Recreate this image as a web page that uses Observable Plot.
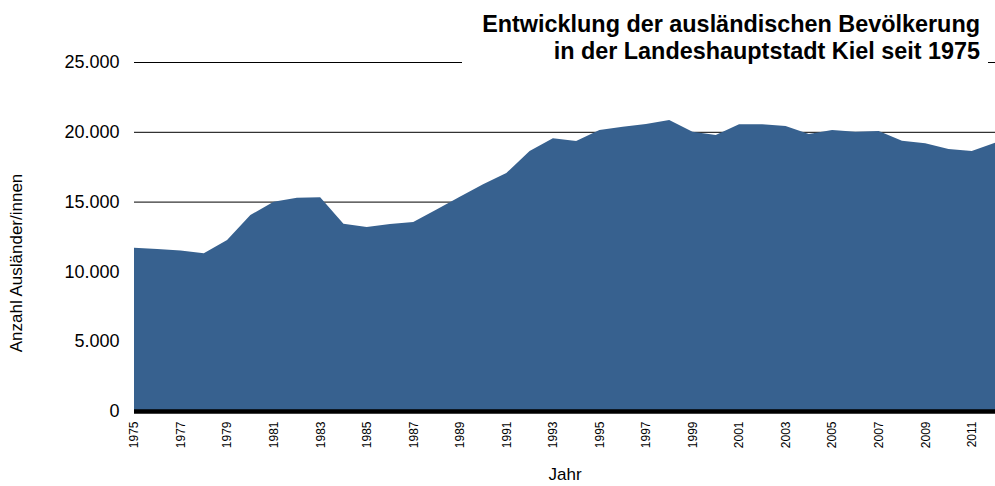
<!DOCTYPE html>
<html><head><meta charset="utf-8">
<script src="https://cdn.jsdelivr.net/npm/d3@7"></script>
<script src="https://cdn.jsdelivr.net/npm/@observablehq/plot@0.6"></script>
<style>
body{margin:0;background:#fff;font-family:"Liberation Sans",Arial,sans-serif;}
#wrap{position:relative;width:995px;height:486px;overflow:hidden;}
#title{position:absolute;top:11px;right:7px;padding:0 8px 0 20px;background:#fff;font-weight:bold;font-size:23.4px;line-height:27px;text-align:right;color:#000;white-space:nowrap;}
#ylab{position:absolute;left:17px;top:263px;transform:translate(-50%,-50%) rotate(-90deg);font-size:17px;white-space:nowrap;color:#000;}
</style></head><body>
<div id="wrap"><div id="chart"></div>
<div id="title">Entwicklung der ausländischen Bevölkerung<br>in der Landeshauptstadt Kiel seit 1975</div>
<div id="ylab">Anzahl Ausländer/innen</div></div>
<script>
const years = [1975,1976,1977,1978,1979,1980,1981,1982,1983,1984,1985,1986,1987,1988,1989,1990,1991,1992,1993,1994,1995,1996,1997,1998,1999,2000,2001,2002,2003,2004,2005,2006,2007,2008,2009,2010,2011,2012];
const auslaender = [11700,11600,11500,11300,12250,14040,14990,15280,15310,13420,13180,13400,13540,14430,15340,16240,17050,18620,19530,19340,20130,20370,20560,20850,20010,19770,20540,20540,20420,19840,20130,20010,20060,19360,19180,18770,18620,19220];
const yTicks = [0,5000,10000,15000,20000,25000];
const xTicks = [1975,1977,1979,1981,1983,1985,1987,1989,1991,1993,1995,1997,1999,2001,2003,2005,2007,2009,2011];
const xLabel = "Jahr";

const data = years.map((j,i)=>({jahr:j, anzahl:auslaender[i]}));
const de = d3.formatLocale({decimal:",",thousands:".",grouping:[3],currency:["","€"]});
const fmt = de.format(",");

const chart = Plot.plot({
  width:995, height:486,
  marginLeft:134, marginRight:0, marginTop:62, marginBottom:75,
  style:{fontFamily:'"Liberation Sans",Arial,sans-serif', background:"#fff", color:"#000"},
  x:{domain:[1975,2012]},
  y:{domain:[0,25000]},
  marks:[
    Plot.ruleY(yTicks.slice(1), {stroke:"#000", strokeWidth:1}),
    Plot.areaY(data, {x:"jahr", y:"anzahl", fill:"#37618f"}),
    Plot.ruleY([0], {stroke:"#000", strokeWidth:4.5}),
    Plot.axisY(yTicks, {tickSize:0, tickPadding:15, tickFormat:fmt, fontSize:18, label:null}),
    Plot.axisX(xTicks, {tickSize:0, tickPadding:10, tickRotate:-90, tickFormat:d=>String(d), fontSize:12, label:null}),
    Plot.text([xLabel], {frameAnchor:"bottom", dy:68, fontSize:17, fill:"#000"})
  ]
});
document.getElementById("chart").appendChild(chart);
</script>
</body></html>
